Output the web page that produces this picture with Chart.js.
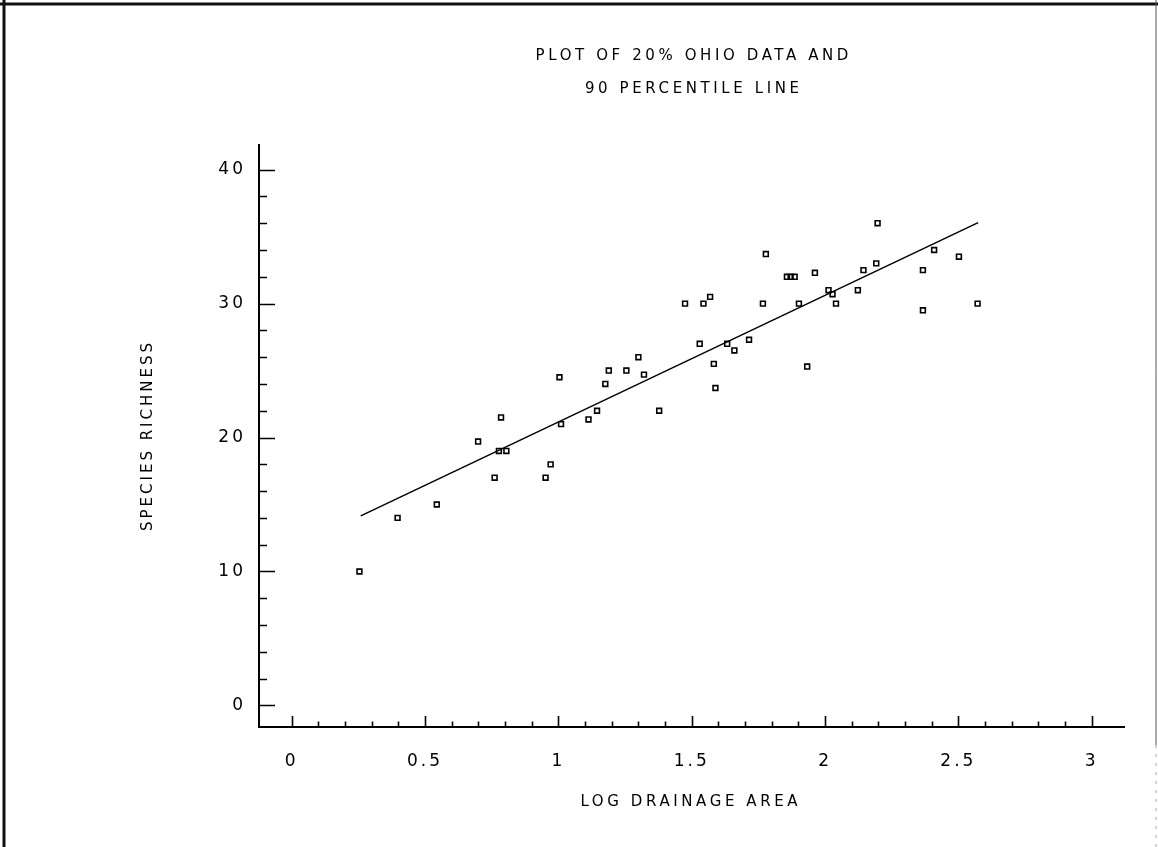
<!DOCTYPE html>
<html>
<head>
<meta charset="utf-8">
<title>Species richness vs log drainage area</title>
<script src="https://cdn.jsdelivr.net/npm/chart.js@4.4.1/dist/chart.umd.min.js"></script>
<style>
  html, body { margin: 0; padding: 0; background: #fff; }
</style>
</head>
<body>
<canvas id="plot" width="1158" height="847"></canvas>
<script>
// log10 of drainage area for each site
const LOG_AREA = [
    0.254, 0.397, 0.544, 0.699, 0.761, 0.777, 0.785, 0.805, 0.952, 0.971,
    1.004, 1.010, 1.113, 1.145, 1.176, 1.189, 1.255, 1.300, 1.321, 1.378,
    1.475, 1.530, 1.544, 1.569, 1.583, 1.589, 1.633, 1.660, 1.715, 1.767,
    1.778, 1.857, 1.871, 1.886, 1.902, 1.933, 1.962, 2.013, 2.028, 2.041,
    2.123, 2.144, 2.192, 2.197, 2.367, 2.367, 2.409, 2.502, 2.572
];
// species richness at the same sites
const RICHNESS = [
    10.0, 14.0, 15.0, 19.7, 17.0, 19.0, 21.5, 19.0, 17.0, 18.0,
    24.5, 21.0, 21.35, 22.0, 24.0, 25.0, 25.0, 26.0, 24.7, 22.0,
    30.0, 27.0, 30.0, 30.5, 25.5, 23.7, 27.0, 26.5, 27.3, 30.0,
    33.7, 32.0, 32.0, 32.0, 30.0, 25.3, 32.3, 31.0, 30.7, 30.0,
    31.0, 32.5, 33.0, 36.0, 32.5, 29.5, 34.0, 33.5, 30.0
];

// 90 percentile line, end points
const LINE_X = [0.259, 2.574];
const LINE_Y = [14.15, 36.05];

const X_TICKS = [0, 0.5, 1, 1.5, 2, 2.5, 3];
const X_TICK_LABELS = ['0', '0.5', '1', '1.5', '2', '2.5', '3'];
const Y_TICKS = [0, 10, 20, 30, 40];
const Y_TICK_LABELS = ['0', '10', '20', '30', '40'];
const X_MINOR_STEP = 0.1;
const Y_MINOR_STEP = 2;

const TITLE_LINES = ['PLOT OF 20% OHIO DATA AND', '90 PERCENTILE LINE'];
const X_TITLE = 'LOG DRAINAGE AREA';
const Y_TITLE = 'SPECIES RICHNESS';

const FONT = '"DejaVu Sans", sans-serif';
const SPACING = 3;       // plotter lettering is spaced out
const WIDE_SPACING = 3.6;

// spaced text, centred on x (canvas adds spacing after the last glyph too)
function spacedText(ctx, text, x, y, sp) {
    ctx.letterSpacing = sp + 'px';
    ctx.fillText(text, x + sp / 2, y);
}

const plotterPage = {
    id: 'plotterPage',
    beforeDraw(chart) {
        const ctx = chart.ctx;
        const w = chart.width, h = chart.height;
        ctx.save();
        ctx.fillStyle = '#fff';
        ctx.fillRect(0, 0, w, h);

        // sheet border
        ctx.strokeStyle = '#111';
        ctx.lineWidth = 3;
        ctx.beginPath();
        ctx.moveTo(0, 4); ctx.lineTo(w, 4);
        ctx.moveTo(4, 0); ctx.lineTo(4, h);
        ctx.stroke();
        ctx.lineWidth = 1;
        ctx.strokeStyle = '#555';
        ctx.beginPath();
        ctx.moveTo(w - 2, 0); ctx.lineTo(w - 2, 745);
        ctx.stroke();
        ctx.setLineDash([3, 6]);
        ctx.strokeStyle = '#aaa';
        ctx.beginPath();
        ctx.moveTo(w - 2, 745); ctx.lineTo(w - 2, h);
        ctx.stroke();
        ctx.restore();

        // tick labels pick this up too
        ctx.letterSpacing = SPACING + 'px';
    },
    afterDraw(chart) {
        const ctx = chart.ctx;
        const xs = chart.scales.x, ys = chart.scales.y;
        const area = chart.chartArea;

        ctx.save();
        ctx.strokeStyle = '#000';
        ctx.lineWidth = 1.6;
        ctx.beginPath();
        // x ticks point up into the plot
        for (let v = 0; v <= 3.0001; v += X_MINOR_STEP) {
            const px = Math.round(xs.getPixelForValue(v)) + 0.5;
            const major = X_TICKS.some(t => Math.abs(t - v) < 1e-6);
            ctx.moveTo(px, area.bottom);
            ctx.lineTo(px, area.bottom - (major ? 11 : 5.5));
        }
        // y ticks point right
        for (let v = 0; v <= 40.0001; v += Y_MINOR_STEP) {
            const py = Math.round(ys.getPixelForValue(v)) + 0.5;
            const major = Y_TICKS.some(t => Math.abs(t - v) < 1e-6);
            ctx.moveTo(area.left, py);
            ctx.lineTo(area.left + (major ? 16 : 8), py);
        }
        ctx.stroke();

        ctx.fillStyle = '#000';
        ctx.font = '15px ' + FONT;
        ctx.textAlign = 'center';
        ctx.textBaseline = 'middle';
        spacedText(ctx, TITLE_LINES[0], 692, 56, WIDE_SPACING);
        spacedText(ctx, TITLE_LINES[1], 692, 89, WIDE_SPACING);
        spacedText(ctx, X_TITLE, 689, 802, WIDE_SPACING);

        ctx.translate(148, 437);
        ctx.rotate(-Math.PI / 2);
        spacedText(ctx, Y_TITLE, 0, 0, SPACING);
        ctx.restore();
    }
};

const points = LOG_AREA.map((x, i) => ({ x: x, y: RICHNESS[i] }));
const line = LINE_X.map((x, i) => ({ x: x, y: LINE_Y[i] }));

new Chart(document.getElementById('plot'), {
    type: 'scatter',
    data: {
        datasets: [
            {
                label: 'sites',
                data: points,
                pointStyle: 'rect',
                pointRadius: 3.4,
                pointBorderWidth: 1.6,
                pointBorderColor: '#000',
                pointBackgroundColor: 'rgba(0,0,0,0)'
            },
            {
                label: '90 percentile',
                type: 'line',
                data: line,
                borderColor: '#000',
                borderWidth: 1.5,
                pointRadius: 0,
                fill: false
            }
        ]
    },
    options: {
        responsive: false,
        animation: false,
        devicePixelRatio: 1,
        layout: { padding: { left: 159, right: 34, top: 145, bottom: 30 } },
        plugins: {
            legend: { display: false },
            tooltip: { enabled: false }
        },
        scales: {
            x: {
                type: 'linear',
                min: -0.1226,
                max: 3.121,
                grid: { display: false, drawTicks: false },
                border: { display: true, color: '#000', width: 2 },
                afterBuildTicks: s => { s.ticks = X_TICKS.map(v => ({ value: v })); },
                afterFit: s => { s.height = 90; },
                ticks: {
                    color: '#000',
                    font: { family: FONT, size: 17 },
                    padding: 24,
                    maxRotation: 0,
                    autoSkip: false,
                    callback: (v, i) => X_TICK_LABELS[i]
                }
            },
            y: {
                type: 'linear',
                min: -1.61,
                max: 41.84,
                grid: { display: false, drawTicks: false },
                border: { display: true, color: '#000', width: 2 },
                afterBuildTicks: s => { s.ticks = Y_TICKS.map(v => ({ value: v })); },
                afterFit: s => { s.width = 100; },
                ticks: {
                    color: '#000',
                    font: { family: FONT, size: 17 },
                    padding: 13,
                    autoSkip: false,
                    callback: (v, i) => Y_TICK_LABELS[i]
                }
            }
        }
    },
    plugins: [plotterPage]
});
</script>
</body>
</html>
